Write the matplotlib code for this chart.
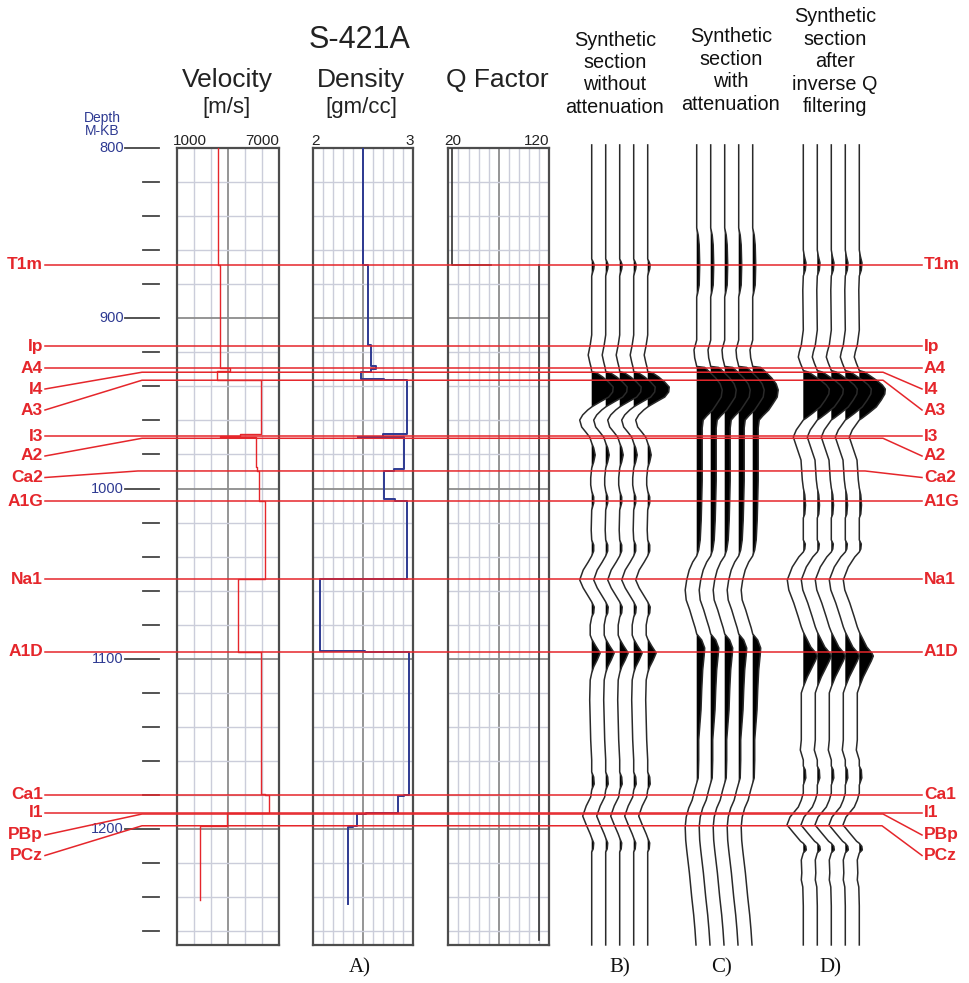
import numpy as np
import matplotlib
matplotlib.use('Agg')
import matplotlib.pyplot as plt
import matplotlib.transforms as mtransforms

# ---------------- data ----------------
horizon_names = ['T1m', 'Ip', 'A4', 'I4', 'A3', 'I3', 'A2', 'Ca2', 'A1G',
                 'Na1', 'A1D', 'Ca1', 'I1', 'PBp', 'PCz']
horizon_depths = [868.7, 916.3, 929.4, 931.7, 936.4, 969.2, 970.5, 989.7,
                  1007.6, 1053.2, 1096.0, 1180.0, 1190.6, 1191.2, 1198.1]

# velocity log (layer top depth, value m/s)
vel_tops = [800, 868.7, 929.4, 930.7, 936.0, 936.4, 968.0, 969.0, 969.6,
            987.5, 989.7, 1007.6, 1053.2, 1096.0, 1179.6, 1180.0, 1190.6,
            1198.1, 1198.5]
vel_values = [3400, 3550, 4100, 3350, 4700, 5950, 4700, 3500, 5620,
              5720, 5810, 6200, 4600, 5920, 6150, 6400, 3950,
              3100, 2335]
vel_base = 1241.7

# density log (layer top depth, value gm/cc)
den_tops = [800, 868.7, 915.7, 928.2, 930.0, 931.7, 935.9, 936.4, 968.0,
            969.5, 970.0, 988.8, 989.7, 1006.3, 1007.6, 1053.2, 1095.5,
            1096.0, 1180.0, 1180.6, 1190.6, 1191.2, 1198.1, 1198.6]
den_values = [2.50, 2.55, 2.58, 2.63, 2.58, 2.48, 2.71, 2.94, 2.70,
              2.45, 2.91, 2.81, 2.71, 2.82, 2.94, 2.07, 2.52,
              2.96, 2.91, 2.85, 2.53, 2.44, 2.40, 2.35]
den_base = 1244.0

# Q factor log (the step at T1m is drawn with a gap, as in the log plot)
q_tops = [800, 868.7, 869.0]
q_values = [24, 62, 110]
q_base = 1265.2

# synthetic traces: depth (m) and deflection (trace-display units)
synB_depth = [798.2, 862.8, 865.2, 867.0, 868.7, 871.1, 873.4, 875.2, 909.8,
              915.7, 921.6, 925.7, 929.2, 931.3, 932.2, 934.5, 937.5, 940.4,
              943.3, 946.3, 948.6, 951.0, 952.1, 953.9, 956.8, 959.8, 963.9,
              966.8, 969.8, 973.3, 976.2, 980.3, 984.4, 988.0, 993.8, 997.9,
              1001.5, 1005.0, 1008.5, 1012.6, 1024.4, 1030.2, 1033.2, 1036.7,
              1039.6, 1043.2, 1047.9, 1053.7, 1058.4, 1063.7, 1066.6, 1069.6,
              1073.1, 1075.5, 1080.2, 1086.1, 1088.4, 1092.5, 1096.6, 1100.7,
              1104.8, 1108.4, 1112.5, 1124.2, 1147.7, 1159.5, 1166.5, 1169.5,
              1173.6, 1177.1, 1181.2, 1186.5, 1192.4, 1198.2, 1202.9, 1205.3,
              1208.2, 1211.7, 1213.5, 1218.2, 1268.1]
synB_amp = [0, 0, 0, 1.5, 2.5, 2, 0.8, 0, 0,
            -1.5, -3.5, -2, -0.5, 0, 5, 11, 17, 21.5,
            21, 17, 10, 3, 0, -4, -9, -12, -10,
            -6, -2, 0, 2, 3.5, 2, 0, -1, -1,
            0, 2, 2, 0, -0.5, 0, 2, 2,
            0, -3.5, -8.5, -12, -8.5, -3, 0, 2.5,
            2, 0, -1.5, -1.5, 0, 4, 8.5, 5.5,
            2, 0, -1.5, -2, -1, 0, 0, 2,
            2.5, 0, -1, -5.5, -9, -5, -1.5, 0,
            2, 1.5, 0, 0, 0]

synC_depth = [798.2, 847.0, 851.1, 857.0, 868.7, 880.5, 885.2, 887.5, 912.8,
              918.6, 923.3, 926.9, 928.3, 928.9, 931.6, 935.1, 938.6, 942.1,
              946.3, 950.4, 953.9, 957.4, 959.8, 964.5, 977.4, 995.0, 1006.8,
              1018.5, 1030.2, 1036.1, 1039.6, 1043.2, 1047.9, 1053.7, 1059.6,
              1065.5, 1071.3, 1077.2, 1081.9, 1085.4, 1089.0, 1093.7, 1097.8,
              1106.6, 1118.4, 1130.1, 1147.7, 1159.5, 1170.0, 1173.0, 1177.1,
              1183.0, 1187.7, 1193.0, 1198.8, 1206.5, 1212.3, 1225.8, 1239.9,
              1250.5, 1259.3, 1268.1]
synC_amp = [0, 0, 1.5, 2.5, 3, 2.5, 1, 0, 0,
            -2.7, -2, -0.5, 0, 8, 13, 19, 23.5, 25.5,
            24.5, 20, 16, 10, 6.5, 5.5, 5.5, 5.5, 5,
            4.5, 3.5, 2, 0, -4, -7.5, -10, -11.5,
            -10.5, -7, -4, -1.5, 0, 5, 8, 7.5,
            6, 5, 4.3, 2, 2, 1.5, 0, -2,
            -4.5, -8, -10.5, -11.5, -11, -10, -7.3, -5,
            -3, -1.7, -0.7]

synD_depth = [798.2, 859.9, 863.4, 867.5, 871.7, 875.2, 883.4, 906.9, 915.7,
              919.8, 922.8, 926.3, 929.2, 930.7, 931.6, 933.3, 936.3, 939.2,
              941.6, 944.5, 948.0, 952.1, 955.7, 958.6, 959.8, 962.7, 965.6,
              969.8, 975.6, 983.3, 995.0, 999.7, 1003.8, 1009.7, 1015.0, 1017.3,
              1024.4, 1030.2, 1032.6, 1035.5, 1037.3, 1040.2, 1046.1, 1053.7,
              1059.6, 1067.3, 1075.5, 1081.3, 1084.3, 1089.0, 1093.1, 1096.6,
              1098.4, 1101.3, 1104.8, 1110.7, 1116.6, 1120.1, 1130.1, 1147.7,
              1153.6, 1159.5, 1163.0, 1165.4, 1170.0, 1174.2, 1178.9, 1183.0,
              1187.1, 1193.0, 1197.6, 1202.3, 1207.2, 1208.4, 1210.2, 1212.3,
              1214.1, 1218.2, 1225.8, 1229.9, 1234.1, 1245.2, 1268.1]
synD_amp = [0, 0, 1, 2.7, 2, 0, -0.5, 0, -2,
            -4, -5, -3, -1, 0, 5, 9.5, 17, 23,
            26, 25.5, 22, 17, 9.5, 3, 0, -3.5, -7,
            -10, -6.7, -2.3, -1, 0, 1.5, 2.2, 1.5, 0,
            0, 0, 2, 1.5, 0, -4.5, -11, -16,
            -14.5, -9.5, -5, -2, 0, 4, 7.5, 12.5,
            14, 12, 9, 4, 0, -2, -2, -2,
            -3, 0, 0, 2, 2.5, 0, 0, -2,
            -5, -13.3, -16.3, -9.7, -2.7, 0, 2.5, 3,
            0, -2, -1.5, -2, -0.5, 0, 0]

depth_major = [800, 900, 1000, 1100, 1200]
depth_minor = [820, 840, 860, 880, 920, 940, 960, 980, 1020, 1040, 1060, 1080,
               1120, 1140, 1160, 1180, 1220, 1240, 1260]

vel_tick_labels = ['1000', '7000']
den_tick_labels = ['2', '3']
q_tick_labels = ['20', '120']

section_titles = [['Synthetic', 'section', 'without', 'attenuation'],
                  ['Synthetic', 'section', 'with', 'attenuation'],
                  ['Synthetic', 'section', 'after', 'inverse Q', 'filtering']]
bottom_labels = ['A)', 'B)', 'C)', 'D)']

# ---------------- layout ----------------
W, H = 969, 983
PXM = 1.7025      # pixels per metre
Y800 = 148        # pixel row of 800 m
Y_BOT = 945       # panel bottom row


def y2d(y):
    return 800 + (y - Y800) / PXM


RED = '#e5262b'
BLUE = '#2e3a92'
LIGHT = '#cbcdda'
DARK = '#8c8c8c'
SPINE = '#4d4d4d'
SANS = ['Liberation Sans', 'DejaVu Sans']
SERIF = ['Liberation Serif', 'DejaVu Serif']

fig = plt.figure(figsize=(W / 100, H / 100), dpi=100)
fig.patch.set_facecolor('white')
tpx = mtransforms.Affine2D().scale(1 / W, -1 / H).translate(0, 1) + fig.transFigure


def step_xy(tops, vals, base, gaps=()):
    bounds = list(tops[1:]) + [base]
    xs, ys = [], []
    for i, (t, b, v) in enumerate(zip(tops, bounds, vals)):
        if i in gaps:
            xs.append(np.nan)
            ys.append(np.nan)
        xs += [v, v]
        ys += [t, b]
    return xs, ys


def panel(x0, x1, xlim, ngrid):
    ax = fig.add_axes([x0 / W, 1 - Y_BOT / H, (x1 - x0) / W, (Y_BOT - Y800) / H])
    ax.set_xlim(*xlim)
    ax.set_ylim(y2d(Y_BOT), 800)
    lo, hi = xlim
    for i in range(1, ngrid):
        g = lo + (hi - lo) * i / ngrid
        mid = (2 * i == ngrid)
        ax.axvline(g, color=DARK if mid else LIGHT, lw=1.3 if mid else 1.0, zorder=1)
    for d in depth_minor + depth_major[1:]:
        ax.axhline(d, color=DARK if d % 100 == 0 else LIGHT,
                   lw=1.3 if d % 100 == 0 else 1.0, zorder=1)
    ax.set_xticks([])
    ax.set_yticks([])
    for s in ax.spines.values():
        s.set_color(SPINE)
        s.set_linewidth(1.6)
    return ax


# Velocity
axv = panel(177, 279, (1000, 7000), 6)
xs, ys = step_xy(vel_tops, vel_values, vel_base)
axv.plot(xs, ys, color=RED, lw=1.0, zorder=3)
# Density
axd = panel(312.5, 413.3, (2.0, 3.0), 10)
xs, ys = step_xy(den_tops, den_values, den_base)
axd.plot(xs, ys, color=BLUE, lw=1.4, zorder=3)
# Q
axq = panel(448.3, 549.3, (20, 120), 10)
xs, ys = step_xy(q_tops, q_values, q_base, gaps=(2,))
axq.plot(xs, ys, color='#333333', lw=1.2, zorder=3)

# panel tick labels
for (xl, xr), labs in zip([(173, 279), (311, 414), (444, 549)],
                          [vel_tick_labels, den_tick_labels, q_tick_labels]):
    fig.text(xl, 141, labs[0], transform=tpx, ha='left', va='center',
             fontsize=11, family=SANS, color='#222222')
    fig.text(xr, 141, labs[1], transform=tpx, ha='right', va='center',
             fontsize=11, family=SANS, color='#222222')

# titles
fig.text(360, 40, 'S-421A', transform=tpx, ha='center', va='center',
         fontsize=22, family=SANS, color='#222222')
for x, t in [(227, 'Velocity'), (361, 'Density'), (497, 'Q Factor')]:
    fig.text(x, 80, t, transform=tpx, ha='center', va='center',
             fontsize=19, family=SANS, color='#222222')
for x, t in [(227, '[m/s]'), (361, '[gm/cc]')]:
    fig.text(x, 107, t, transform=tpx, ha='center', va='center',
             fontsize=16, family=SANS, color='#222222')

title_pos = [(615, 40), (731, 37), (835, 17)]
for (cx, y0), lines in zip(title_pos, section_titles):
    for k, line in enumerate(lines):
        fig.text(cx, y0 + 22.4 * k, line, transform=tpx, ha='center',
                 va='center', fontsize=14.3, family=SANS, color='#111111')

for x, lab in zip([360, 620, 722, 830], bottom_labels):
    fig.text(x, 968, lab, transform=tpx, ha='center', va='center',
             fontsize=15, family=SERIF, color='#111111')

# depth axis labels
fig.text(102, 118, 'Depth', transform=tpx, ha='center', va='center',
         fontsize=10, family=SANS, color=BLUE)
fig.text(102, 131, 'M-KB', transform=tpx, ha='center', va='center',
         fontsize=10, family=SANS, color=BLUE)

# ---------------- overlay axes (depth in y, pixel columns in x) ----------------
ov = fig.add_axes([0, 0, 1, 1])
ov.set_xlim(0, W)
ov.set_ylim(y2d(H), y2d(0))
ov.axis('off')
ov.patch.set_alpha(0)

for d in depth_major:
    ov.plot([125, 159], [d, d], color='#444444', lw=1.3)
    ov.text(124, d, str(d), ha='right', va='center', fontsize=10.5,
            family=SANS, color=BLUE)
for d in depth_minor:
    ov.plot([143, 159], [d, d], color='#444444', lw=1.3)

# synthetic sections
sections = [(591.7, synB_depth, synB_amp),
            (696.7, synC_depth, synC_amp),
            (803.3, synD_depth, synD_amp)]
SPACING = 14.0
for base, dep, amp in sections:
    dep = np.asarray(dep, float)
    amp = np.asarray(amp, float)
    for k in range(5):
        x0 = base + k * SPACING
        ov.fill_betweenx(dep, x0, x0 + amp, where=amp > 0, interpolate=True,
                         color='black', lw=0, zorder=2)
        ov.plot(x0 + amp, dep, color='#2a2a2a', lw=1.1, zorder=3)

# horizons with labels
label_y = [None, None, None, 389, 410, None, 456, 477.5, None,
           None, None, None, None, 835, 855.5]
left_end = [142, 142, 142, 142, 142, 142, 142, 138, 142,
            142, 142, 142, 142, 142, 142]
right_start = [883, 883, 883, 883, 883, 883, 883, 865, 883,
               883, 883, 883, 883, 883, 882]
for name, d, ly, le, rs in zip(horizon_names, horizon_depths, label_y,
                               left_end, right_start):
    if ly is None:
        ov.plot([45, 922], [d, d], color=RED, lw=1.1, zorder=5)
        ld = d
    else:
        ld = y2d(ly)
        ov.plot([45, le, rs, 922], [ld, d, d, ld], color=RED, lw=1.1, zorder=5)
    ov.text(43, ld, name, ha='right', va='center', fontsize=12.5,
            fontweight='bold', family=SANS, color=RED, zorder=6)
    ov.text(924, ld, name, ha='left', va='center', fontsize=12.5,
            fontweight='bold', family=SANS, color=RED, zorder=6)

fig.savefig('out.png', dpi=100, facecolor='white')
